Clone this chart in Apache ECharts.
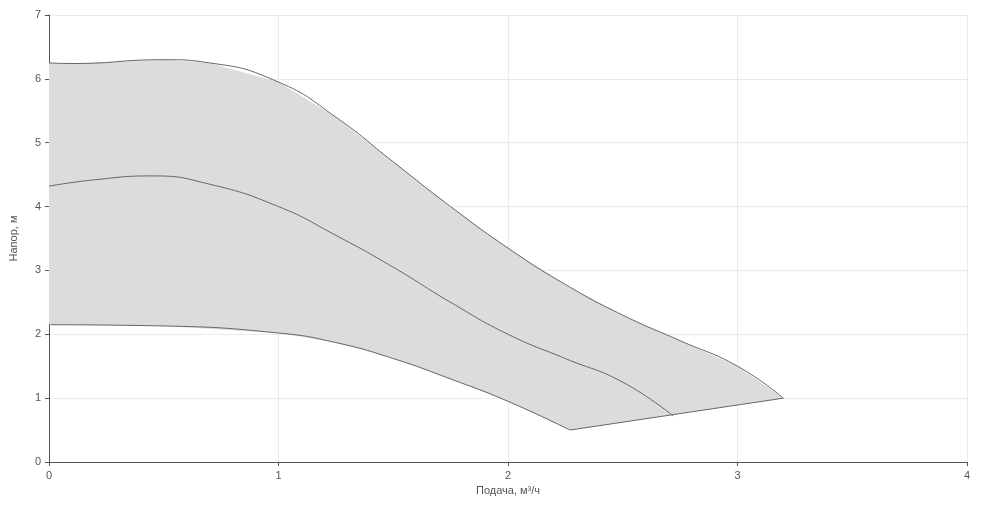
<!DOCTYPE html>
<html><head><meta charset="utf-8">
<script src="https://cdn.jsdelivr.net/npm/echarts@6/dist/echarts.min.js"></script>
<style>html,body{margin:0;padding:0;background:#fff}#chart{width:1000px;height:519px}</style>
</head><body><div id="chart"></div>
<script>
// кривые насоса: [подача, напор]
var topCurve = [[0,6.25],[0.1,6.24],[0.5,6.3],[0.7,6.25],[1,5.95],[1.25,5.4],[1.5,4.7],[1.75,4.0],[2,3.35],[2.25,2.78],[2.5,2.3],[2.75,1.9],[3,1.5],[3.2,1.0]];
var midCurve = [[0,4.32],[0.2,4.42],[0.45,4.48],[0.7,4.35],[1,4.0],[1.25,3.55],[1.5,3.05],[1.75,2.5],[2,2.0],[2.25,1.62],[2.5,1.25],[2.72,0.72]];
var lowCurve = [[0,2.15],[0.5,2.13],[1,2.02],[1.25,1.87],[1.5,1.62],[1.75,1.3],[2,0.95],[2.27,0.5]];
var closeLine = [[2.27,0.5],[3.2,1.0]];

var outline = topCurve.concat(lowCurve.slice().reverse());

var myChart = echarts.init(document.getElementById('chart'));
var lineCommon = {type: 'line', smooth: true, symbol: 'none', lineStyle: {color: '#666', width: 1}, z: 3};
var option = {
    animation: false,
    grid: {left: 46, right: 33, top: 15, bottom: 57},
    xAxis: {
        type: 'value', min: 0, max: 4, interval: 1,
        name: 'Подача, м³/ч', nameLocation: 'middle', nameGap: 22,
        nameTextStyle: {color: '#555', fontSize: 11},
        axisLine: {lineStyle: {color: '#555'}},
        axisTick: {show: true, length: 4},
        axisLabel: {color: '#555', fontSize: 11},
        splitLine: {lineStyle: {color: '#e6ebf1'}}
    },
    yAxis: {
        type: 'value', min: 0, max: 7, interval: 1,
        name: 'Напор, м', nameLocation: 'middle', nameGap: 30,
        nameTextStyle: {color: '#555', fontSize: 11},
        axisLine: {show: true, lineStyle: {color: '#555'}},
        axisTick: {show: true, length: 4},
        axisLabel: {color: '#555', fontSize: 11},
        splitLine: {lineStyle: {color: '#e6ebf1'}}
    },
    series: [
        {
            type: 'custom', z: 1,
            data: [0],
            renderItem: function (params, api) {
                return {
                    type: 'polygon',
                    shape: {points: outline.map(function (p) { return api.coord(p); })},
                    style: {fill: '#dcdcdc', stroke: 'none'}
                };
            }
        },
        Object.assign({data: topCurve}, lineCommon),
        Object.assign({data: midCurve}, lineCommon),
        Object.assign({data: lowCurve}, lineCommon),
        Object.assign({}, lineCommon, {data: closeLine, smooth: false})
    ]
};
myChart.setOption(option);
</script></body></html>
